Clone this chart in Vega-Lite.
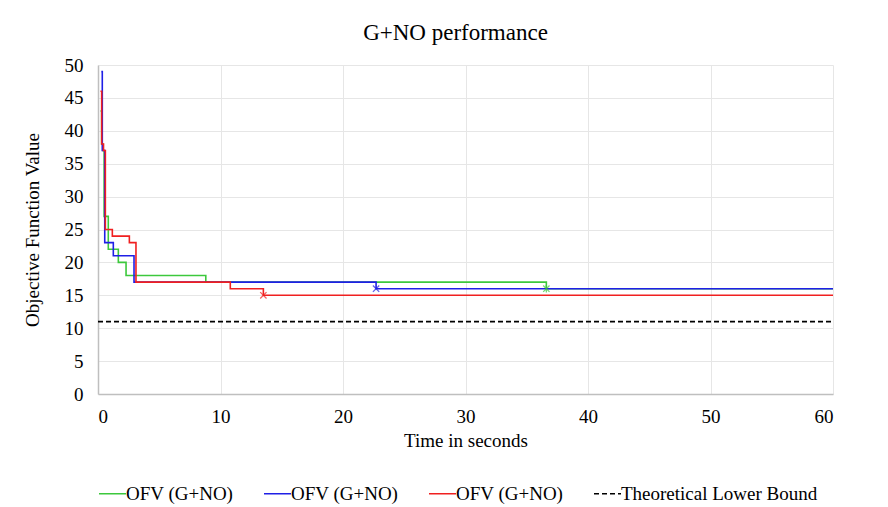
{
  "$schema": "https://vega.github.io/schema/vega-lite/v6.json",
  "autosize": {"type": "none"},
  "padding": {"left": 98, "top": 65, "right": 55, "bottom": 113},
  "width": 735,
  "height": 329,
  "background": "white",
  "title": {"text": "G+NO performance", "font": "Liberation Serif", "fontSize": 23, "fontWeight": "normal", "color": "#000000", "offset": 11, "dx": -10},
  "config": {"view": {"stroke": null}},
  "datasets": {
    "lines": [
      {"s": "lb", "t": 0, "v": 11},
      {"s": "lb", "t": 60, "v": 11},
      {"s": "g", "t": 0.2, "v": 43},
      {"s": "g", "t": 0.3, "v": 38},
      {"s": "g", "t": 0.4, "v": 37},
      {"s": "g", "t": 0.5, "v": 27},
      {"s": "g", "t": 0.84, "v": 22},
      {"s": "g", "t": 1.66, "v": 20},
      {"s": "g", "t": 2.29, "v": 18},
      {"s": "g", "t": 8.8, "v": 17},
      {"s": "g", "t": 36.6, "v": 16},
      {"s": "g", "t": 60, "v": 16},
      {"s": "b", "t": 0.27, "v": 49},
      {"s": "b", "t": 0.35, "v": 37},
      {"s": "b", "t": 0.55, "v": 23},
      {"s": "b", "t": 1.25, "v": 21},
      {"s": "b", "t": 2.94, "v": 17},
      {"s": "b", "t": 22.7, "v": 16},
      {"s": "b", "t": 60, "v": 16},
      {"s": "r", "t": 0.2, "v": 46},
      {"s": "r", "t": 0.3, "v": 38},
      {"s": "r", "t": 0.45, "v": 37},
      {"s": "r", "t": 0.6, "v": 25},
      {"s": "r", "t": 1.17, "v": 24},
      {"s": "r", "t": 2.56, "v": 23},
      {"s": "r", "t": 3.1, "v": 17},
      {"s": "r", "t": 10.8, "v": 16},
      {"s": "r", "t": 13.5, "v": 15},
      {"s": "r", "t": 60, "v": 15}
    ],
    "marks": [
      {"s": "r", "t": 13.5, "v": 15},
      {"s": "b", "t": 22.7, "v": 16},
      {"s": "g", "t": 36.6, "v": 16}
    ]
  },
  "encoding": {
    "x": {"field": "t", "type": "quantitative", "scale": {"domain": [0, 60], "nice": false},
      "axis": {"values": [0, 10, 20, 30, 40, 50, 60], "title": "Time in seconds", "labelPadding": 13, "titlePadding": 5,
        "labelFont": "Liberation Serif", "titleFont": "Liberation Serif", "labelFontSize": 19, "titleFontSize": 19, "titleFontWeight": "normal", "labelColor": "#000000", "titleColor": "#000000", "gridColor": "#e6e6e6", "domainColor": "#bfbfbf", "domainWidth": 1.5, "ticks": false, "labelOverlap": false}},
    "y": {"field": "v", "type": "quantitative", "scale": {"domain": [0, 50], "nice": false},
      "axis": {"values": [0, 5, 10, 15, 20, 25, 30, 35, 40, 45, 50], "title": "Objective Function Value", "labelPadding": 15, "titlePadding": 22,
        "labelFont": "Liberation Serif", "titleFont": "Liberation Serif", "labelFontSize": 19, "titleFontSize": 19, "titleFontWeight": "normal", "labelColor": "#000000", "titleColor": "#000000", "gridColor": "#e6e6e6", "domainColor": "#bfbfbf", "domainWidth": 1.5, "ticks": false, "labelOverlap": false}}
  },
  "layer": [
    {
      "data": {"name": "lines"},
      "mark": {"type": "line", "interpolate": "step-after", "strokeWidth": 1.6},
      "encoding": {
        "color": {
          "field": "s", "type": "nominal",
          "scale": {"domain": ["g", "b", "r", "lb"], "range": ["#3cc83c", "#1f1fe6", "#f02020", "#000000"]},
          "legend": {"title": null, "orient": "none", "legendX": 0, "legendY": 414, "direction": "horizontal", "symbolType": "stroke", "symbolSize": 729, "symbolStrokeWidth": 1.6, "labelOffset": -1, "columnPadding": 26,
            "labelFont": "Liberation Serif", "labelFontSize": 19, "labelColor": "#000000", "labelLimit": 400,
            "labelExpr": "datum.value == 'lb' ? 'Theoretical Lower Bound' : 'OFV (G+NO)'"}
        },
        "strokeDash": {
          "field": "s", "type": "nominal",
          "scale": {"domain": ["g", "b", "r", "lb"], "range": [[1, 0], [1, 0], [1, 0], [5, 3]]},
          "legend": {"title": null, "orient": "none", "legendX": 0, "legendY": 414, "direction": "horizontal", "symbolType": "stroke", "symbolSize": 729, "symbolStrokeWidth": 1.6, "labelOffset": -1, "columnPadding": 26,
            "labelFont": "Liberation Serif", "labelFontSize": 19, "labelColor": "#000000", "labelLimit": 400,
            "labelExpr": "datum.value == 'lb' ? 'Theoretical Lower Bound' : 'OFV (G+NO)'"}
        }
      }
    },
    {
      "data": {"name": "marks"},
      "mark": {"type": "point", "filled": false, "strokeWidth": 1.3, "size": 40},
      "encoding": {
        "stroke": {"field": "s", "type": "nominal", "scale": {"domain": ["g", "b", "r"], "range": ["#3cc83c", "#1f1fe6", "#f02020"]}, "legend": null},
        "shape": {"field": "s", "type": "nominal", "scale": {"domain": ["g", "b", "r"], "range": ["M-1,-1L1,1M-1,1L1,-1M0,-1.2L0,1.2", "M-1,-1L1,1M-1,1L1,-1", "M-1,-1L1,1M-1,1L1,-1"]}, "legend": null}
      }
    }
  ]
}
